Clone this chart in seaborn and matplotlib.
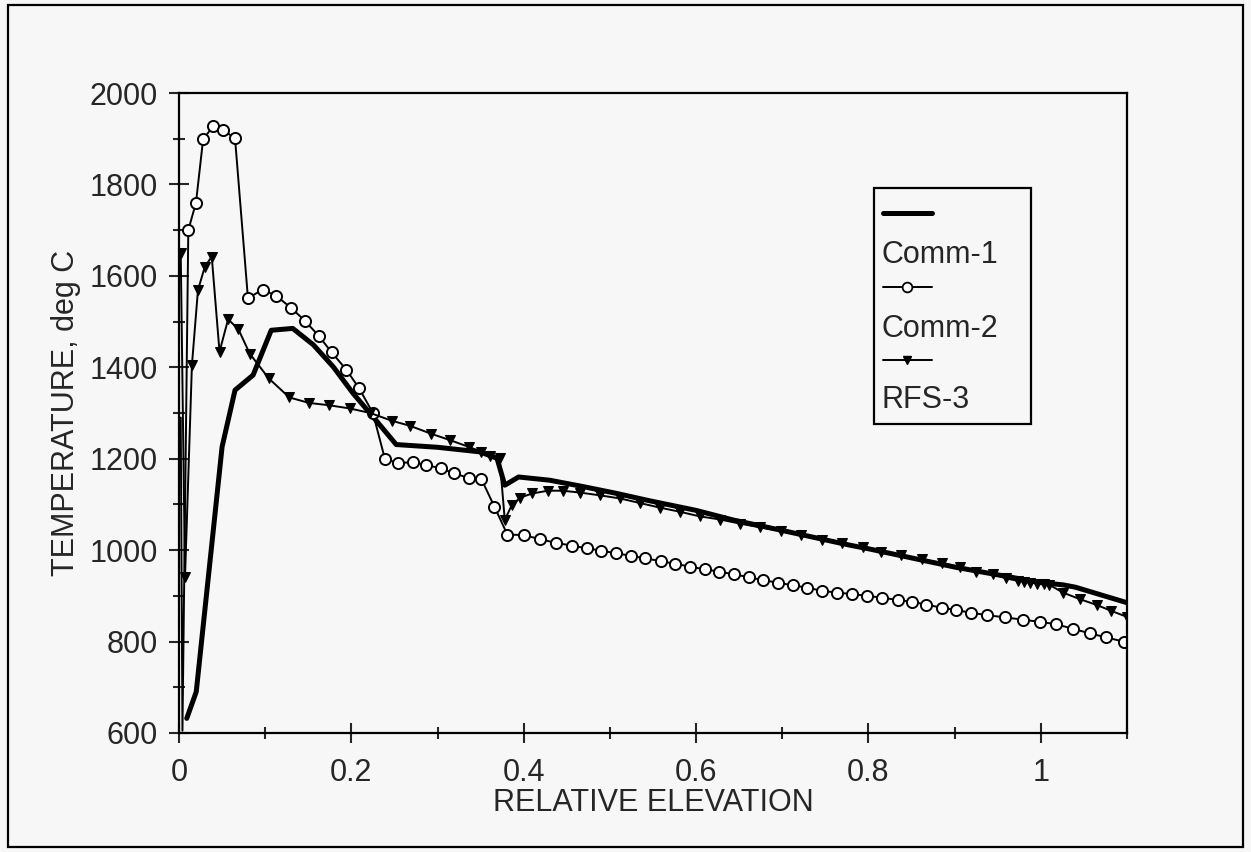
import numpy as np
import pandas as pd
import matplotlib
matplotlib.use("Agg")
import matplotlib.pyplot as plt
import seaborn as sns
from matplotlib.patches import Rectangle
from matplotlib.ticker import MultipleLocator

# Comm-1 (thick line, no markers)
comm1_x = [0.009, 0.020, 0.050, 0.065, 0.086, 0.107, 0.132, 0.156, 0.179, 0.202, 0.225,
           0.252, 0.300, 0.349, 0.369, 0.378, 0.394, 0.430, 0.469, 0.508, 0.546, 0.600,
           0.643, 0.700, 0.778, 0.800, 0.900, 1.000, 1.026, 1.040, 1.100]
comm1_y = [632, 690, 1226, 1350, 1383, 1481, 1485, 1449, 1401, 1343, 1292,
           1231, 1225, 1215, 1201, 1142, 1160, 1153, 1139, 1124, 1108, 1087,
           1066, 1043, 1011, 1003, 963, 929, 924, 919, 885]

# Comm-2 (open circles)
comm2_x = [0.002, 0.004, 0.0108, 0.0197, 0.028, 0.040, 0.051, 0.065, 0.080, 0.097, 0.113,
           0.130, 0.146, 0.162, 0.177, 0.194, 0.209, 0.225, 0.239, 0.254, 0.272, 0.287,
           0.304, 0.319, 0.336, 0.351, 0.366, 0.381, 0.400, 0.419, 0.437, 0.456, 0.473,
           0.490, 0.507, 0.524, 0.541, 0.559, 0.576, 0.593, 0.610, 0.627, 0.644, 0.661,
           0.678, 0.695, 0.712, 0.729, 0.746, 0.764, 0.781, 0.798, 0.816, 0.834, 0.850,
           0.867, 0.885, 0.902, 0.919, 0.937, 0.958, 0.979, 0.999, 1.018, 1.037, 1.057,
           1.076, 1.096]
comm2_y = [1290, 605, 1700, 1760, 1899, 1928, 1919, 1901, 1551, 1570, 1556,
           1530, 1502, 1469, 1433, 1395, 1354, 1300, 1199, 1191, 1192, 1186,
           1179, 1168, 1158, 1155, 1095, 1034, 1033, 1024, 1016, 1010, 1004,
           999, 993, 988, 982, 976, 970, 964, 958, 953, 947, 941,
           934, 929, 923, 918, 911, 907, 904, 900, 896, 891, 887,
           881, 874, 869, 863, 858, 853, 848, 843, 838, 828, 818,
           809, 800]

# RFS-3 (filled down triangles)
rfs3_x = [0.002, 0.007, 0.015, 0.022, 0.030, 0.038, 0.047, 0.057, 0.069, 0.082, 0.104,
          0.128, 0.151, 0.174, 0.198, 0.222, 0.247, 0.268, 0.292, 0.314, 0.336, 0.351,
          0.361, 0.372, 0.378, 0.386, 0.396, 0.410, 0.428, 0.445, 0.465, 0.488, 0.512,
          0.535, 0.558, 0.581, 0.604, 0.628, 0.651, 0.674, 0.699, 0.722, 0.746, 0.769,
          0.794, 0.815, 0.838, 0.862, 0.885, 0.906, 0.925, 0.945, 0.960, 0.973, 0.981,
          0.988, 0.996, 1.004, 1.010, 1.026, 1.045, 1.065, 1.082, 1.100]
rfs3_y = [1650, 942, 1405, 1569, 1620, 1642, 1434, 1505, 1483, 1430, 1376,
          1334, 1322, 1317, 1310, 1300, 1283, 1272, 1255, 1241, 1226, 1215,
          1206, 1201, 1066, 1098, 1115, 1124, 1130, 1130, 1126, 1120, 1113,
          1103, 1093, 1084, 1074, 1067, 1058, 1050, 1042, 1033, 1023, 1015,
          1006, 996, 989, 980, 972, 963, 953, 948, 938, 933, 931,
          929, 927, 925, 924, 907, 893, 880, 867, 854]

legend_labels = ["Comm-1", "Comm-2", "RFS-3"]

sns.set_style("ticks")
plt.rcParams['font.family'] = ['Liberation Sans', 'DejaVu Sans']
bg = "#f7f7f7"
fs = 22

fig = plt.figure(figsize=(12.51, 8.52), dpi=100, facecolor=bg)
ax = fig.add_axes([179 / 1251, 1 - 733 / 852, 948 / 1251, 640 / 852])
ax.set_facecolor(bg)

sns.lineplot(x=comm1_x, y=comm1_y, ax=ax, color="black", lw=3.6, sort=False, estimator=None)
sns.lineplot(x=comm2_x, y=comm2_y, ax=ax, color="black", lw=1.4, sort=False, estimator=None,
             marker="o", markersize=8, markerfacecolor="white", markeredgecolor="black",
             markeredgewidth=1.4, markevery=list(range(2, len(comm2_x))))
sns.lineplot(x=rfs3_x, y=rfs3_y, ax=ax, color="black", lw=1.4, sort=False, estimator=None,
             marker="v", markersize=7, markerfacecolor="black", markeredgecolor="black")

ax.set_xlim(0, 1.1)
ax.set_ylim(600, 2000)
ax.xaxis.set_minor_locator(MultipleLocator(0.1))
ax.yaxis.set_major_locator(MultipleLocator(200))
ax.yaxis.set_minor_locator(MultipleLocator(100))
ax.set_xticks([0, 0.2, 0.4, 0.6, 0.8, 1.0])
ax.set_xticklabels(["0", "0.2", "0.4", "0.6", "0.8", "1"])
ax.tick_params(which="major", direction="inout", length=14, width=1.5, labelsize=fs)
ax.tick_params(axis="x", which="major", pad=11)
ax.tick_params(axis="y", which="major", pad=8)
ax.tick_params(which="minor", direction="inout", length=9, width=1.5)
for s in ax.spines.values():
    s.set_visible(True)
    s.set_linewidth(1.6)
    s.set_color("black")

ax.set_xlabel("RELATIVE ELEVATION", fontsize=fs, labelpad=0)
ax.set_ylabel("TEMPERATURE, deg C", fontsize=fs, labelpad=6)

# legend box drawn like the original: sample line above each label
ax.add_patch(Rectangle((0.733, 0.483), 0.166, 0.369, transform=ax.transAxes,
                       facecolor=bg, edgecolor="black", lw=1.6, zorder=5))
ax.plot([0.7426, 0.794], [0.8125, 0.8125], transform=ax.transAxes, color="black", lw=3.6, zorder=6)
ax.plot([0.7426, 0.794], [0.697, 0.697], transform=ax.transAxes, color="black", lw=1.4, zorder=6)
ax.plot([0.7683], [0.697], transform=ax.transAxes, marker="o", markersize=7,
        markerfacecolor="white", markeredgecolor="black", markeredgewidth=1.3, zorder=7)
ax.plot([0.7426, 0.794], [0.583, 0.583], transform=ax.transAxes, color="black", lw=1.4, zorder=6)
ax.plot([0.7683], [0.583], transform=ax.transAxes, marker="v", markersize=6,
        color="black", zorder=7)
for lab, yy in zip(legend_labels, [0.747, 0.631, 0.520]):
    ax.text(0.741, yy, lab, transform=ax.transAxes, fontsize=fs, va="center", ha="left", zorder=7)

# outer frame around the whole figure
fig.patches.append(Rectangle((8 / 1251, 5 / 852), 1235 / 1251, 842 / 852, transform=fig.transFigure,
                             fill=False, edgecolor="black", lw=1.6))

plt.savefig("out.png", dpi=100, facecolor=bg)
